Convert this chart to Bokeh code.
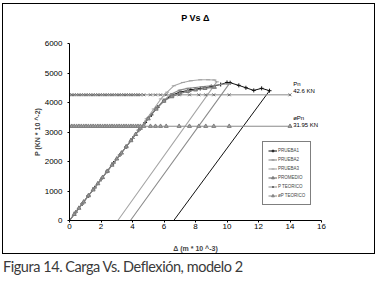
from bokeh.plotting import figure
from bokeh.models import Range1d, FixedTicker, Legend, LegendItem, Label, Div, LinearAxis
from bokeh.layouts import column
from bokeh.embed import file_html
from bokeh.resources import INLINE

# ---- data ----
x_ticks = [0, 2, 4, 6, 8, 10, 12, 14, 16]
y_ticks = [0, 1000, 2000, 3000, 4000, 5000, 6000]

prueba1_x = [0, 0.4, 0.8, 1.2, 1.6, 2.0, 2.4, 2.8, 3.2, 3.6, 4.0, 4.4, 4.8, 5.2, 5.6,
             6.0, 6.5, 7.0, 7.7, 8.3, 9.0, 9.6, 10.0, 10.2, 10.75, 11.2, 11.7, 12.2, 12.7, 6.62]
prueba1_y = [0, 280, 560, 840, 1110, 1390, 1670, 1950, 2220, 2500, 2780, 3060, 3320, 3580, 3840,
             4060, 4250, 4350, 4430, 4475, 4540, 4610, 4680, 4670, 4580, 4500, 4410, 4480, 4400, 0]

prueba2_x = [0, 0.4, 0.8, 1.2, 1.6, 2.0, 2.4, 2.8, 3.2, 3.6, 4.0, 4.4, 5.0, 5.5, 6.0, 6.5,
             7.0, 7.5, 8.0, 8.5, 9.0, 9.6, 10.15, 3.87]
prueba2_y = [0, 280, 560, 840, 1110, 1390, 1670, 1950, 2220, 2500, 2780, 3060, 3480, 3800, 4080, 4300,
             4420, 4480, 4510, 4540, 4570, 4610, 4640, 0]

prueba3_x = [0, 0.4, 0.8, 1.2, 1.6, 2.0, 2.4, 2.8, 3.2, 3.6, 4.0, 4.4, 4.9, 5.35, 5.8, 6.2,
             6.62, 7.2, 7.7, 8.3, 8.8, 9.2, 9.35, 3.07]
prueba3_y = [0, 280, 560, 840, 1110, 1390, 1670, 1950, 2220, 2500, 2780, 3060, 3450, 3780, 4120, 4350,
             4565, 4680, 4735, 4769, 4770, 4765, 4700, 0]

promedio_x = [0, 0.3, 0.6, 0.9, 1.2, 1.5, 1.8, 2.1, 2.4, 2.7, 3.0, 3.3, 3.6, 3.9, 4.2, 4.5,
              5.0, 5.5, 6.0, 6.5, 7.0, 7.5, 8.0, 8.6, 9.2]
promedio_y = [0, 210, 420, 630, 840, 1040, 1250, 1460, 1670, 1880, 2090, 2290, 2500, 2710, 2920, 3130,
              3450, 3780, 4050, 4200, 4300, 4380, 4430, 4480, 4520]

teorico_x = [0, 0.15, 0.3, 0.45, 0.6, 0.75, 0.9, 1.05, 1.2, 1.35, 1.5, 1.65, 1.8, 1.95, 2.1,
             2.25, 2.4, 2.55, 2.7, 2.85, 3.0, 3.15, 3.3, 3.45, 3.6, 3.75, 3.9, 4.05, 4.2, 4.35,
             4.5, 4.72, 5.14, 5.46, 5.78, 6.14, 6.96, 7.62, 8.21, 8.65, 9.16, 10.14, 14.0]
pn_value = 4260       # Pn = 42.6 KN
phi_pn_value = 3195   # øPn = 31.95 KN

FONT = "Liberation Sans"

p = figure(width=373, height=251, output_backend="svg", toolbar_location=None,
           x_range=Range1d(0, 16), y_range=Range1d(0, 6000),
           min_border_left=66, min_border_right=55, min_border_top=39, min_border_bottom=35,
           margin=(3, 0, 0, 2))
p.styles = {"border": "1px solid black"}
p.outline_line_color = None
p.xgrid.visible = False
p.ygrid.visible = False
p.background_fill_color = "white"
p.border_fill_color = "white"
p.title.text = ""
p.title.standoff = 0

for ax in (p.xaxis[0], p.yaxis[0]):
    ax.major_label_text_font = FONT
    ax.major_label_text_font_size = "8px"
    ax.major_label_text_color = "black"
    ax.axis_label_text_font = FONT
    ax.axis_label_text_font_size = "7px"
    ax.axis_label_text_font_style = "bold"
    ax.minor_tick_line_color = None
    ax.major_tick_in = 0
    ax.major_tick_out = 2
    ax.axis_line_color = "black"
    ax.major_tick_line_color = "black"

p.xaxis.ticker = FixedTicker(ticks=x_ticks)
p.yaxis.ticker = FixedTicker(ticks=y_ticks)
p.xaxis.axis_label = "\u0394 (m * 10 ^-3)"
p.yaxis.axis_label = "P (KN * 10 ^-2)"
p.xaxis.major_label_standoff = 1
p.yaxis.major_label_standoff = 5
p.yaxis.major_label_text_baseline = "bottom"
p.xaxis.axis_label_standoff = 13
p.yaxis.axis_label_standoff = 1

# chart title carried by a tick-less axis above the frame
title_axis = LinearAxis(axis_label="P Vs \u0394", ticker=FixedTicker(ticks=[]),
                        bounds=(1.5, 16),
                        axis_line_color=None, major_tick_line_color=None,
                        minor_tick_line_color=None, major_tick_out=0, major_tick_in=0,
                        axis_label_text_font=FONT, axis_label_text_font_size="9px",
                        axis_label_text_font_style="bold", axis_label_text_color="black",
                        axis_label_standoff=21)
p.add_layout(title_axis, "above")

r = p.line(prueba1_x, prueba1_y, line_color="#111111", line_width=1)
m = p.scatter(prueba1_x[:-1], prueba1_y[:-1], marker="cross", size=4, line_color="#111111")
p1_items = [r, m]

r = p.line(prueba2_x, prueba2_y, line_color="#8c8c8c", line_width=1.1)
m = p.scatter(prueba2_x[:-1], prueba2_y[:-1], marker="dash", size=4, line_color="#888888")
p2_items = [r, m]

r = p.line(prueba3_x, prueba3_y, line_color="#a6a6a6", line_width=1.1)
m = p.scatter(prueba3_x[:-1], prueba3_y[:-1], marker="dash", size=4, line_color="#a0a0a0")
p3_items = [r, m]

r = p.line(promedio_x, promedio_y, line_color="#7c7c7c", line_width=1.2)
m = p.scatter(promedio_x, promedio_y, marker="triangle", size=4, line_color="#777777",
              fill_color="#999999")
prom_items = [r, m]

pt_y = [pn_value] * len(teorico_x)
ppt_y = [phi_pn_value] * len(teorico_x)

r = p.line(teorico_x, pt_y, line_color="#8a8a8a", line_width=1)
m = p.scatter(teorico_x, pt_y, marker="x", size=4, line_color="#6e6e6e", line_width=1)
pt_items = [r, m]
r2 = p.line(teorico_x, ppt_y, line_color="#8a8a8a", line_width=1)
m2 = p.scatter(teorico_x, ppt_y, marker="triangle", size=4, line_color="#808080",
               fill_color="#a0a0a0")
ppt_items = [r2, m2]

legend = Legend(items=[
    LegendItem(label="PRUEBA1", renderers=p1_items),
    LegendItem(label="PRUEBA2", renderers=p2_items),
    LegendItem(label="PRUEBA3", renderers=p3_items),
    LegendItem(label="PROMEDIO", renderers=prom_items),
    LegendItem(label="P TEORICO", renderers=pt_items),
    LegendItem(label="\u00f8P TEORICO", renderers=ppt_items),
], location=(193, 15))
legend.label_text_font = FONT
legend.label_text_font_size = "4.5px"
legend.label_height = 7
legend.glyph_height = 7
legend.glyph_width = 9
legend.label_width = 10
legend.label_standoff = 1
legend.spacing = 2
legend.padding = 5
legend.margin = 0
legend.border_line_color = "black"
legend.border_line_width = 1
legend.background_fill_alpha = 1
p.add_layout(legend)

for txt, yv in (("Pn", 4640), ("42.6 KN", 4400), ("\u00f8Pn", 3460), ("31.95 KN", 3250)):
    p.add_layout(Label(x=14.2, y=yv, text=txt, text_font=FONT, text_font_size="6px",
                       text_baseline="middle", text_color="black"))

caption = Div(text="Figura 14. Carga Vs. Deflexi\u00f3n, modelo 2", width=376, height=28,
              margin=(4, 0, 0, 3),
              styles={"font-family": "Lato", "font-size": "14.5px", "color": "#3a3a3a",
                      "letter-spacing": "-0.45px", "line-height": "1.2", "white-space": "nowrap"})

layout = column(p, caption, spacing=0)
open("out.html", "w").write(file_html(layout, INLINE))
